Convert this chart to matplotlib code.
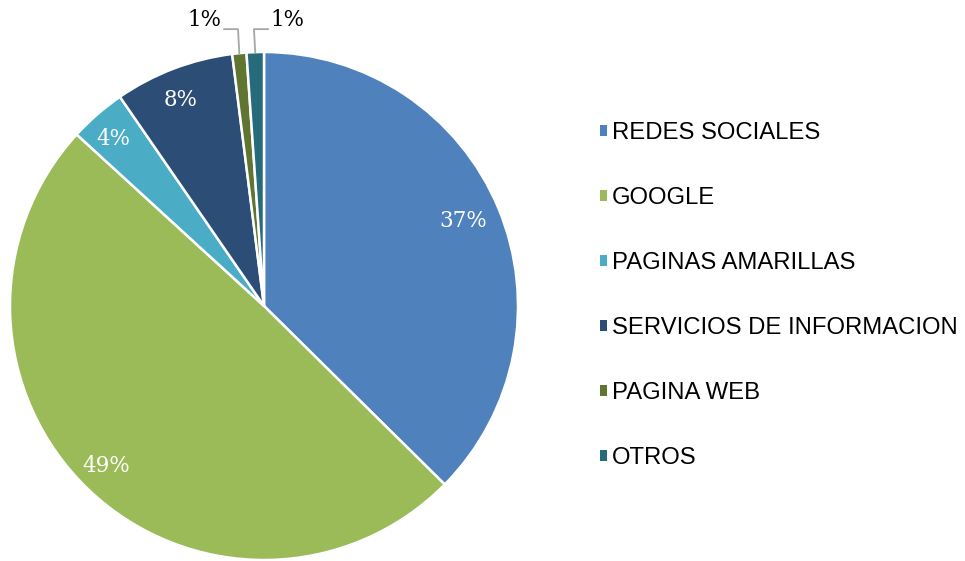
import numpy as np
import matplotlib
matplotlib.use("Agg")
import matplotlib.pyplot as plt
from matplotlib.patches import Patch

categories = ["REDES SOCIALES", "GOOGLE", "PAGINAS AMARILLAS",
              "SERVICIOS DE INFORMACION", "PAGINA WEB", "OTROS"]
values = [37.4, 49.4, 3.6, 7.6, 0.9, 1.1]
colors = ["#4F81BD", "#9BBB59", "#4BACC6", "#2C4D75", "#5F7530", "#276A7C"]

W, H = 965, 561
fig = plt.figure(figsize=(W / 100, H / 100), dpi=100)
cx, cy, R = 264, 306, 254
ax = fig.add_axes([(cx - R) / W, (H - cy - R) / H, 2 * R / W, 2 * R / H])

total = sum(values)
wedges, _ = ax.pie(values, colors=colors, startangle=90, counterclock=False,
                   radius=1, wedgeprops=dict(edgecolor="white", linewidth=1.8))
ax.set_xlim(-1, 1)
ax.set_ylim(-1, 1)
ax.set_aspect("auto")
ax.axis("off")

serif = ["DejaVu Serif"]
small_dir = {4: -1, 5: 1}
for i, (w, v) in enumerate(zip(wedges, values)):
    pct = f"{round(v / total * 100):.0f}%"
    mid = np.deg2rad((w.theta1 + w.theta2) / 2)
    if i in small_dir:
        d = small_dir[i]
        x0, y0 = np.cos(mid), np.sin(mid)
        xs = [x0, x0 - 0.005, x0 - 0.005 + d * 0.055]
        ys = [y0, 1.09, 1.09]
        ax.plot(xs, ys, color="#A6A6A6", lw=1.3, clip_on=False)
        ax.text(xs[-1] + d * 0.01, 1.126, pct, ha="right" if d < 0 else "left",
                va="center", fontsize=15.5, family=serif, color="#000000")
    else:
        r = 0.87
        ax.text(r * np.cos(mid) - 0.02, r * np.sin(mid), pct, ha="center", va="center",
                fontsize=15.5, family=serif, color="white")

handles = [Patch(facecolor=c, edgecolor="none") for c in colors]
fig.legend(handles, categories, loc="center left",
           bbox_to_anchor=(600 / W, 1 - 295.5 / H), frameon=False,
           borderpad=0, borderaxespad=0, handlelength=0.3, handleheight=0.3,
           handletextpad=0.2, labelspacing=1.8,
           prop=dict(family="Liberation Sans", size=17.2))

fig.savefig("out.png", dpi=100)
